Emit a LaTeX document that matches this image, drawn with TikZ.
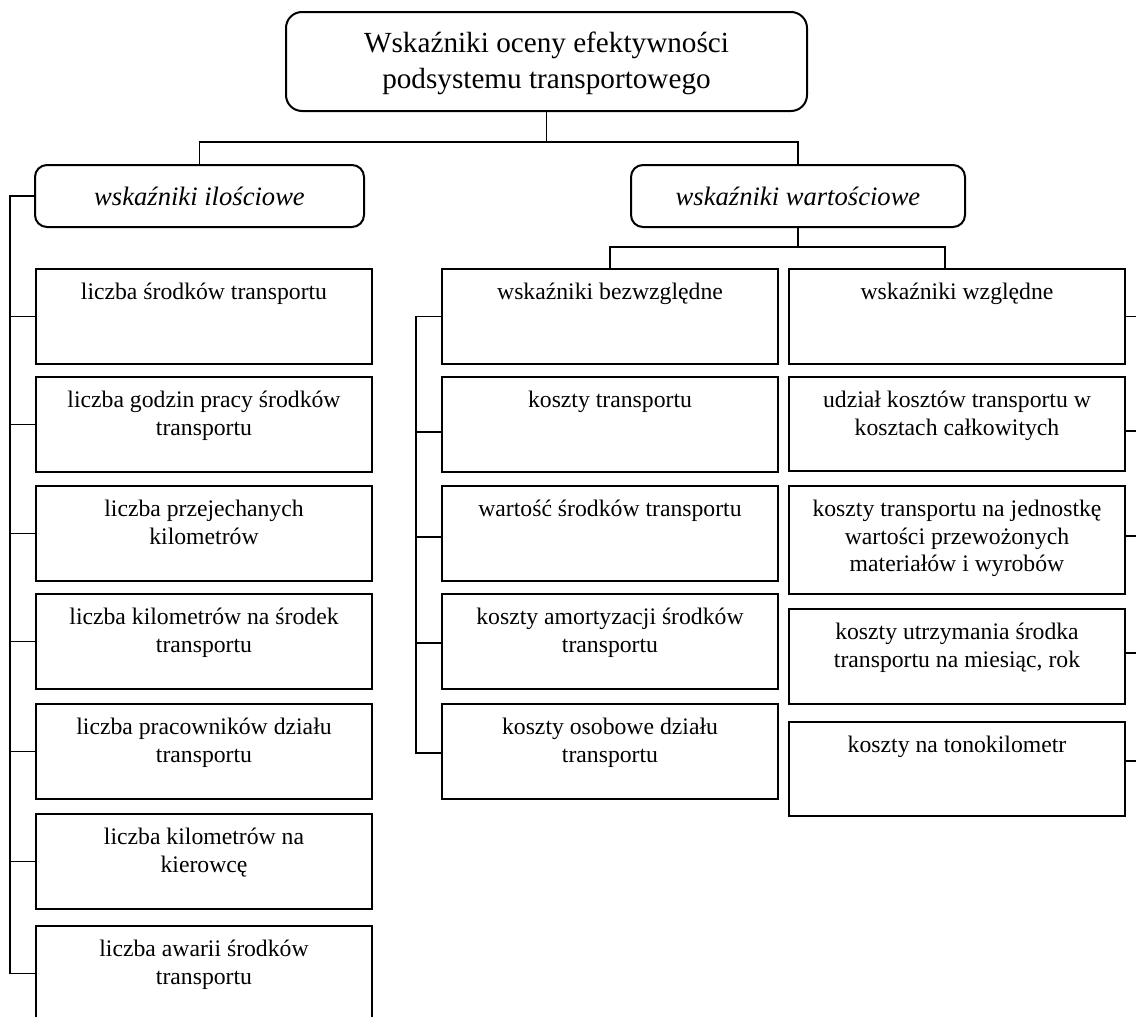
\documentclass[tikz,border=0pt]{standalone}
\usepackage{fontspec}
\setmainfont{Liberation Serif}
\newcommand\mybox[4]{%
  \node[box, minimum height=#3pt] (#1) at (#2) {};
  \node[tx] (#1t) at ([yshift=-11.5pt]#1.north) {\rule{0pt}{20pt}#4};
}
\begin{document}
\begin{tikzpicture}[x=1pt,y=-1pt,
  box/.style={draw, line width=2pt, inner sep=0pt, anchor=north west, minimum width=336pt},
  rbox/.style={draw, line width=2pt, inner sep=0pt},
  tx/.style={anchor=north, align=center, inner sep=0pt, font=\fontsize{23.7}{27.5}\selectfont},
  cat/.style={font=\itshape\fontsize{26.6}{30}\selectfont},
  conn/.style={line width=1.6pt},
]
\useasboundingbox (0,0) rectangle (1136,1017);
\clip (0,0) rectangle (1136,1017);

% top
\node[rbox, rounded corners=16pt, minimum width=521pt, minimum height=99pt] (T) at (546.5,61.5) {};
\node[tx, font=\fontsize{29.2}{36}\selectfont] (Tt) at ([yshift=-16pt]T.north) {\rule{0pt}{25pt}Wskaźniki oceny efektywności\\podsystemu transportowego};

% categories
\node[rbox, cat, rounded corners=12pt, minimum width=329pt, minimum height=62pt] (A) at (199.5,196) {wskaźniki ilościowe};
\node[rbox, cat, rounded corners=12pt, minimum width=334pt, minimum height=62pt] (B) at (798,196) {wskaźniki wartościowe};

% left column
\mybox{L1}{35,268}{95}{liczba środków transportu}
\mybox{L2}{35,376}{95}{liczba godzin pracy środków\\transportu}
\mybox{L3}{35,485}{95}{liczba przejechanych\\kilometrów}
\mybox{L4}{35,593}{95}{liczba kilometrów na środek\\transportu}
\mybox{L5}{35,703}{95}{liczba pracowników działu\\transportu}
\mybox{L6}{35,813}{95}{liczba kilometrów na\\kierowcę}
\mybox{L7}{35,925}{95}{liczba awarii środków\\transportu}

% middle column
\mybox{M1}{441,268}{95}{wskaźniki bezwzględne}
\mybox{M2}{441,376}{95}{koszty transportu}
\mybox{M3}{441,485}{95}{wartość środków transportu}
\mybox{M4}{441,593}{95}{koszty amortyzacji środków\\transportu}
\mybox{M5}{441,703}{95}{koszty osobowe działu\\transportu}

% right column
\mybox{R1}{788,268}{95}{wskaźniki względne}
\mybox{R2}{788,376}{94}{udział kosztów transportu w\\kosztach całkowitych}
\mybox{R3}{788,485}{108}{koszty transportu na jednostkę\\wartości przewożonych\\materiałów i wyrobów}
\mybox{R4}{788,608}{95}{koszty utrzymania środka\\transportu na miesiąc, rok}
\mybox{R5}{788,721}{94}{koszty na tonokilometr}

% connectors
\coordinate (j1) at (546.5,142);
\draw[conn] (T.south) -- (j1);
\draw[conn] (A.north) |- (j1) -| (B.north);
\coordinate (j2) at (798,247);
\draw[conn] (B.south) -- (j2);
\draw[conn] (M1.north) |- (j2) -| ([xshift=-12pt]R1.north);

\coordinate (lb) at (10,0);
\draw[conn] (A.west) -- (A.west -| lb) -- (L7.west -| lb) -- (L7.west);
\foreach \n in {L1,L2,L3,L4,L5,L6} \draw[conn] (\n.west) -- (\n.west -| lb);

\coordinate (mb) at (416,0);
\draw[conn] (M1.west) -- (M1.west -| mb) -- ([yshift=-1.5pt]M5.west -| mb) -- ([yshift=-1.5pt]M5.west);
\foreach \n/\s in {M2/-7.5,M3/-3.5,M4/-1.5} \draw[conn] ([yshift=\s pt]\n.west) -- ([yshift=\s pt]\n.west -| mb);

\coordinate (rb) at (1142,0);
\draw[conn] (R1.east) -- (R1.east -| rb) -- ([yshift=8pt]R5.east -| rb) -- ([yshift=8pt]R5.east);
\foreach \n/\s in {R2/-7,R3/4,R4/3.5} \draw[conn] ([yshift=\s pt]\n.east) -- ([yshift=\s pt]\n.east -| rb);
\end{tikzpicture}
\end{document}
